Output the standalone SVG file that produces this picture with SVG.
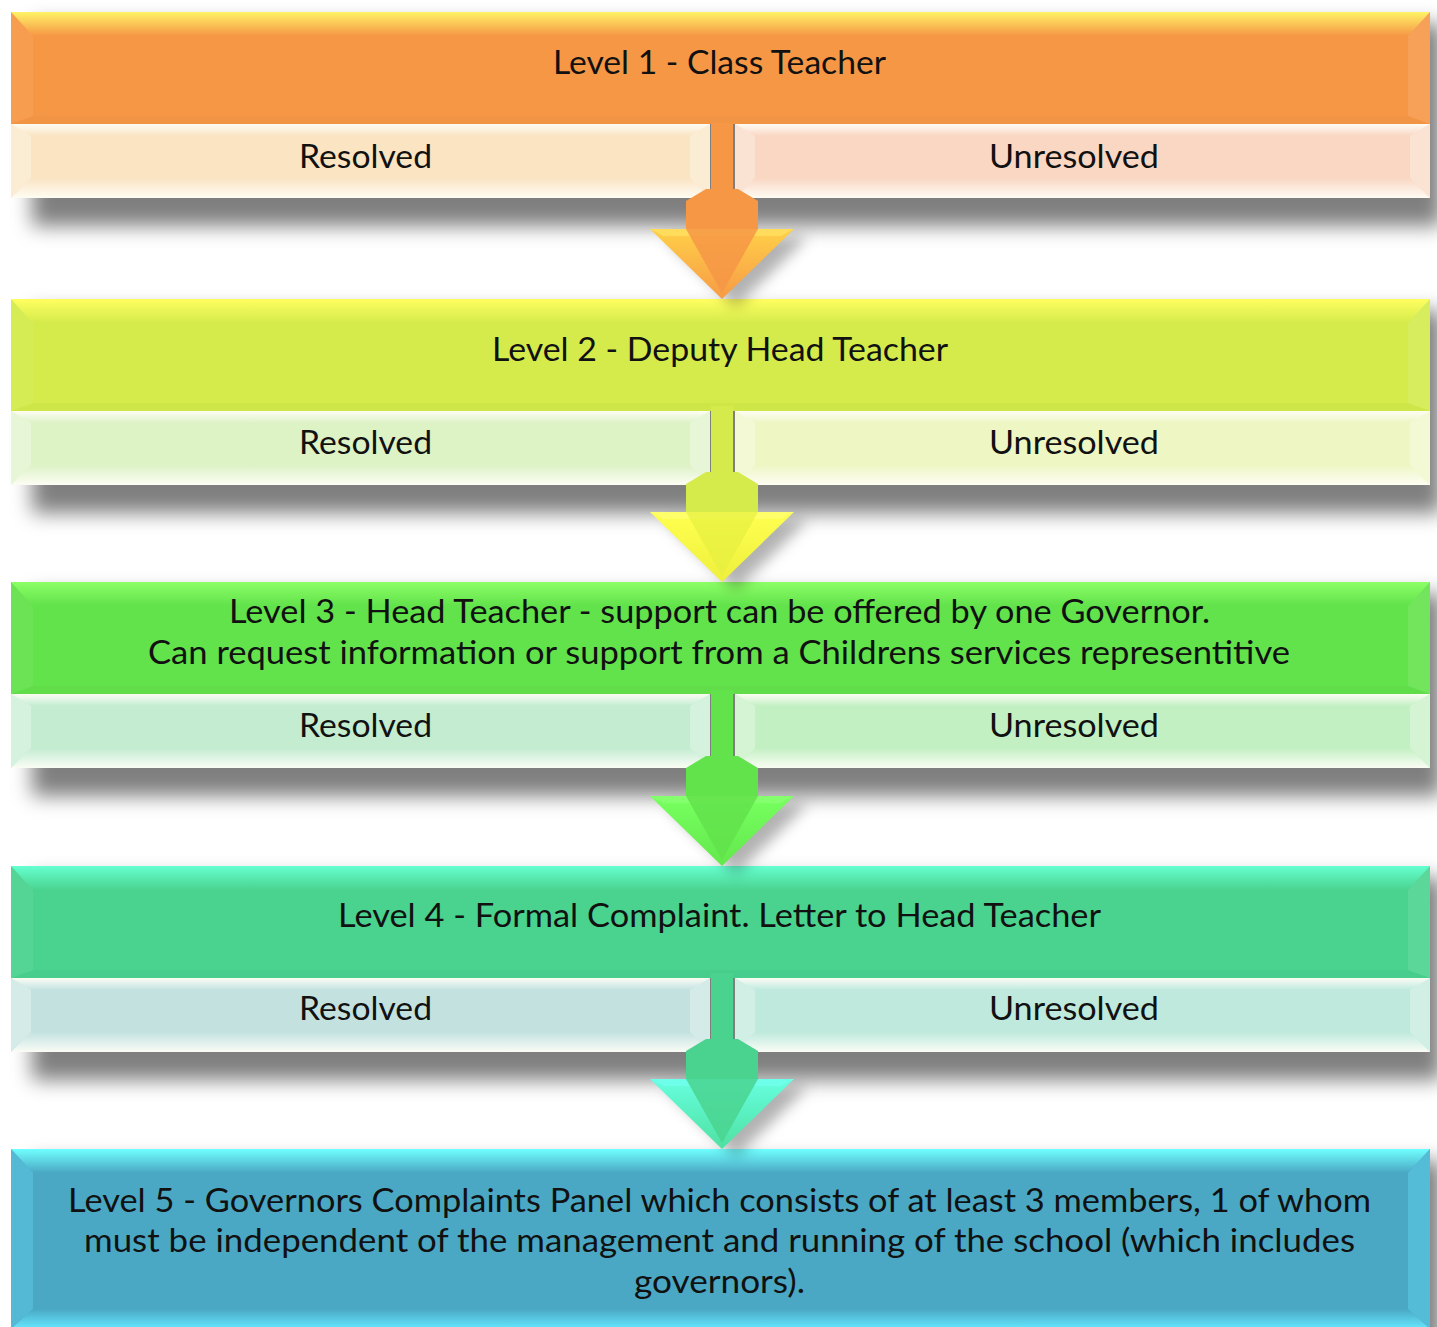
<svg xmlns="http://www.w3.org/2000/svg" width="1437" height="1327" viewBox="0 0 1437 1327">
<style>
text{font-family:"Lato","Open Sans","Liberation Sans",sans-serif;font-size:32px;fill:#111;text-anchor:middle}
.sbt{fill:url(#subTop)}
.sbb{fill:url(#subBot)}
.sbs{fill:#ffffff;fill-opacity:.3}
.mbl{fill:#ffffff;fill-opacity:.06}
.mbr{fill:#ffffff;fill-opacity:.1}
.mbb{fill:#000000;fill-opacity:.02}
.shadow{fill:#000;fill-opacity:.5;filter:url(#blur)}
.ashadow{fill:#000;fill-opacity:.3;filter:url(#blur2)}
</style>
<defs>
<filter id="blur" x="-10%" y="-50%" width="120%" height="200%"><feGaussianBlur stdDeviation="10"/></filter>
<filter id="blur2" x="-50%" y="-50%" width="200%" height="200%"><feGaussianBlur stdDeviation="7"/></filter>
<linearGradient id="subTop" x1="0" y1="0" x2="0" y2="1"><stop offset="0" stop-color="#fffdf4" stop-opacity=".95"/><stop offset="1" stop-color="#ffffff" stop-opacity="0"/></linearGradient>
<linearGradient id="subBot" x1="0" y1="0" x2="0" y2="1"><stop offset="0" stop-color="#ffffff" stop-opacity="0"/><stop offset="1" stop-color="#fffef6" stop-opacity=".92"/></linearGradient>
<linearGradient id="t1" x1="0" y1="0" x2="0" y2="1"><stop offset="0" stop-color="#fff366"/><stop offset="1" stop-color="#f69746"/></linearGradient>
<linearGradient id="t2" x1="0" y1="0" x2="0" y2="1"><stop offset="0" stop-color="#ffff60"/><stop offset="1" stop-color="#d4eb4b"/></linearGradient>
<linearGradient id="t3" x1="0" y1="0" x2="0" y2="1"><stop offset="0" stop-color="#8cff66"/><stop offset="1" stop-color="#62e24b"/></linearGradient>
<linearGradient id="t4" x1="0" y1="0" x2="0" y2="1"><stop offset="0" stop-color="#66ffd0"/><stop offset="1" stop-color="#4ad38f"/></linearGradient>
<linearGradient id="t5" x1="0" y1="0" x2="0" y2="1"><stop offset="0" stop-color="#70ffff"/><stop offset="1" stop-color="#4aa8c4"/></linearGradient>
<linearGradient id="b5" x1="0" y1="0" x2="0" y2="1"><stop offset="0" stop-color="#4aa8c4"/><stop offset="1" stop-color="#66e8ff"/></linearGradient>
<linearGradient id="h1" x1="0" y1="0" x2="0" y2="1"><stop offset="0" stop-color="#ffd048"/><stop offset="1" stop-color="#f79a46"/></linearGradient>
<linearGradient id="h2" x1="0" y1="0" x2="0" y2="1"><stop offset="0" stop-color="#ffff50"/><stop offset="1" stop-color="#eef03c"/></linearGradient>
<linearGradient id="h3" x1="0" y1="0" x2="0" y2="1"><stop offset="0" stop-color="#78ff60"/><stop offset="1" stop-color="#62e84b"/></linearGradient>
<linearGradient id="h4" x1="0" y1="0" x2="0" y2="1"><stop offset="0" stop-color="#66ffe0"/><stop offset="1" stop-color="#4fe0a0"/></linearGradient>
</defs>

<!-- shadows -->
<g id="shadows">
<rect class="shadow" x="32" y="24" width="1410" height="202"/>
<rect class="shadow" x="32" y="311" width="1410" height="202"/>
<rect class="shadow" x="32" y="594" width="1410" height="202"/>
<rect class="shadow" x="32" y="878" width="1410" height="202"/>
<rect class="shadow" x="32" y="1161" width="1410" height="200"/>
</g>

<!-- Level 1 -->
<g id="level1" transform="translate(0,12)">
<rect x="11" y="0" width="1419" height="112" fill="#f69746"/>
<polygon fill="url(#t1)" points="11,0 1430,0 1408,24 33,24"/>
<polygon class="mbl" points="11,0 33,24 33,104 11,112"/>
<polygon class="mbr" points="1430,0 1430,112 1408,104 1408,24"/>
<polygon class="mbb" points="11,112 1430,112 1408,104 33,104"/>
<text x="719.5" y="62" textLength="333" lengthAdjust="spacingAndGlyphs">Level 1 - Class Teacher</text>
<g id="level1-resolved">
<rect x="11" y="112" width="699" height="74" fill="#fae4c2"/>
<polygon class="sbt" points="11,112 710,112 690,124 31,124"/>
<polygon class="sbs" points="11,112 31,124 31,166 11,186"/>
<polygon class="sbs" points="710,112 710,186 690,166 690,124"/>
<polygon class="sbb" points="11,186 710,186 690,166 31,166"/>
<text x="365.5" y="156" textLength="133" lengthAdjust="spacingAndGlyphs">Resolved</text>
</g>
<g id="level1-unresolved">
<rect x="735" y="112" width="695" height="74" fill="#fad7c2"/>
<polygon class="sbt" points="735,112 1430,112 1410,124 755,124"/>
<polygon class="sbs" points="735,112 755,124 755,166 735,186"/>
<polygon class="sbs" points="1430,112 1430,186 1410,166 1410,124"/>
<polygon class="sbb" points="735,186 1430,186 1410,166 755,166"/>
<text x="1074" y="156" textLength="170" lengthAdjust="spacingAndGlyphs">Unresolved</text>
</g>
</g>

<!-- Level 2 -->
<g id="level2" transform="translate(0,299)">
<rect x="11" y="0" width="1419" height="112" fill="#d4eb4b"/>
<polygon fill="url(#t2)" points="11,0 1430,0 1408,24 33,24"/>
<polygon class="mbl" points="11,0 33,24 33,104 11,112"/>
<polygon class="mbr" points="1430,0 1430,112 1408,104 1408,24"/>
<polygon class="mbb" points="11,112 1430,112 1408,104 33,104"/>
<text x="720" y="62" textLength="456" lengthAdjust="spacingAndGlyphs">Level 2 - Deputy Head Teacher</text>
<g id="level2-resolved">
<rect x="11" y="112" width="699" height="74" fill="#ddf2c5"/>
<polygon class="sbt" points="11,112 710,112 690,124 31,124"/>
<polygon class="sbs" points="11,112 31,124 31,166 11,186"/>
<polygon class="sbs" points="710,112 710,186 690,166 690,124"/>
<polygon class="sbb" points="11,186 710,186 690,166 31,166"/>
<text x="365.5" y="155" textLength="133" lengthAdjust="spacingAndGlyphs">Resolved</text>
</g>
<g id="level2-unresolved">
<rect x="735" y="112" width="695" height="74" fill="#eef6c3"/>
<polygon class="sbt" points="735,112 1430,112 1410,124 755,124"/>
<polygon class="sbs" points="735,112 755,124 755,166 735,186"/>
<polygon class="sbs" points="1430,112 1430,186 1410,166 1410,124"/>
<polygon class="sbb" points="735,186 1430,186 1410,166 755,166"/>
<text x="1074" y="155" textLength="170" lengthAdjust="spacingAndGlyphs">Unresolved</text>
</g>
</g>

<!-- Level 3 -->
<g id="level3" transform="translate(0,582)">
<rect x="11" y="0" width="1419" height="112" fill="#62e24b"/>
<polygon fill="url(#t3)" points="11,0 1430,0 1408,24 33,24"/>
<polygon class="mbl" points="11,0 33,24 33,104 11,112"/>
<polygon class="mbr" points="1430,0 1430,112 1408,104 1408,24"/>
<polygon class="mbb" points="11,112 1430,112 1408,104 33,104"/>
<text x="719.5" y="41" textLength="981" lengthAdjust="spacingAndGlyphs">Level 3 - Head Teacher - support can be offered by one Governor.</text>
<text x="719" y="82" textLength="1142" lengthAdjust="spacingAndGlyphs">Can request information or support from a Childrens services representitive</text>
<g id="level3-resolved">
<rect x="11" y="112" width="699" height="74" fill="#c3ecd0"/>
<polygon class="sbt" points="11,112 710,112 690,124 31,124"/>
<polygon class="sbs" points="11,112 31,124 31,166 11,186"/>
<polygon class="sbs" points="710,112 710,186 690,166 690,124"/>
<polygon class="sbb" points="11,186 710,186 690,166 31,166"/>
<text x="365.5" y="155" textLength="133" lengthAdjust="spacingAndGlyphs">Resolved</text>
</g>
<g id="level3-unresolved">
<rect x="735" y="112" width="695" height="74" fill="#c3f0c2"/>
<polygon class="sbt" points="735,112 1430,112 1410,124 755,124"/>
<polygon class="sbs" points="735,112 755,124 755,166 735,186"/>
<polygon class="sbs" points="1430,112 1430,186 1410,166 1410,124"/>
<polygon class="sbb" points="735,186 1430,186 1410,166 755,166"/>
<text x="1074" y="155" textLength="170" lengthAdjust="spacingAndGlyphs">Unresolved</text>
</g>
</g>

<!-- Level 4 -->
<g id="level4" transform="translate(0,866)">
<rect x="11" y="0" width="1419" height="112" fill="#4ad38f"/>
<polygon fill="url(#t4)" points="11,0 1430,0 1408,24 33,24"/>
<polygon class="mbl" points="11,0 33,24 33,104 11,112"/>
<polygon class="mbr" points="1430,0 1430,112 1408,104 1408,24"/>
<polygon class="mbb" points="11,112 1430,112 1408,104 33,104"/>
<text x="719.5" y="61" textLength="763" lengthAdjust="spacingAndGlyphs">Level 4 - Formal Complaint. Letter to Head Teacher</text>
<g id="level4-resolved">
<rect x="11" y="112" width="699" height="74" fill="#c3e2df"/>
<polygon class="sbt" points="11,112 710,112 690,124 31,124"/>
<polygon class="sbs" points="11,112 31,124 31,166 11,186"/>
<polygon class="sbs" points="710,112 710,186 690,166 690,124"/>
<polygon class="sbb" points="11,186 710,186 690,166 31,166"/>
<text x="365.5" y="154" textLength="133" lengthAdjust="spacingAndGlyphs">Resolved</text>
</g>
<g id="level4-unresolved">
<rect x="735" y="112" width="695" height="74" fill="#bfe9dc"/>
<polygon class="sbt" points="735,112 1430,112 1410,124 755,124"/>
<polygon class="sbs" points="735,112 755,124 755,166 735,186"/>
<polygon class="sbs" points="1430,112 1430,186 1410,166 1410,124"/>
<polygon class="sbb" points="735,186 1430,186 1410,166 755,166"/>
<text x="1074" y="154" textLength="170" lengthAdjust="spacingAndGlyphs">Unresolved</text>
</g>
</g>

<!-- Level 5 -->
<g id="level5" transform="translate(0,1149)">
<rect x="11" y="0" width="1419" height="180" fill="#4aa8c4"/>
<polygon fill="url(#t5)" points="11,0 1430,0 1408,24 33,24"/>
<polygon fill="#58c0dc" fill-opacity=".7" points="11,0 33,24 33,160 11,180"/>
<polygon fill="#58c0dc" fill-opacity=".8" points="1430,0 1430,180 1408,160 1408,24"/>
<polygon fill="url(#b5)" points="11,180 1430,180 1408,160 33,160"/>
<text x="719.5" y="63" textLength="1303" lengthAdjust="spacingAndGlyphs">Level 5 - Governors Complaints Panel which consists of at least 3 members, 1 of whom</text>
<text x="719.5" y="103" textLength="1271" lengthAdjust="spacingAndGlyphs">must be independent of the management and running of the school (which includes</text>
<text x="719.5" y="144" textLength="171" lengthAdjust="spacingAndGlyphs">governors).</text>
</g>

<!-- connectors -->
<g id="connectors">
<g id="arrow1" transform="translate(0,13)">
<polygon class="ashadow" points="664,224 808,224 736,294"/>
<rect x="711" y="110" width="22" height="80" fill="#f69746"/>
<polygon fill="#f69746" points="686,188 706,176 738,176 758,188 758,218 686,218"/>
<polygon fill="url(#h1)" points="650,216 794,216 722,286"/>
<polygon fill="#ffe060" fill-opacity=".8" points="650,216 794,216 781,223 663,223"/>
<polygon fill="#f69746" fill-opacity=".85" points="686,216 758,216 722,280"/>
</g>
<g id="arrow2" transform="translate(0,296)">
<polygon class="ashadow" points="664,224 808,224 736,294"/>
<rect x="711" y="110" width="22" height="80" fill="#d4eb4b"/>
<polygon fill="#d4eb4b" points="686,188 706,176 738,176 758,188 758,218 686,218"/>
<polygon fill="url(#h2)" points="650,216 794,216 722,286"/>
<polygon fill="#ffff70" fill-opacity=".8" points="650,216 794,216 781,223 663,223"/>
<polygon fill="#e6f040" fill-opacity=".7" points="686,216 758,216 722,280"/>
</g>
<g id="arrow3" transform="translate(0,580)">
<polygon class="ashadow" points="664,224 808,224 736,294"/>
<rect x="711" y="110" width="22" height="80" fill="#62e24b"/>
<polygon fill="#62e24b" points="686,188 706,176 738,176 758,188 758,218 686,218"/>
<polygon fill="url(#h3)" points="650,216 794,216 722,286"/>
<polygon fill="#88ff70" fill-opacity=".8" points="650,216 794,216 781,223 663,223"/>
<polygon fill="#62e24b" fill-opacity=".85" points="686,216 758,216 722,280"/>
</g>
<g id="arrow4" transform="translate(0,863)">
<polygon class="ashadow" points="664,224 808,224 736,294"/>
<rect x="711" y="110" width="22" height="80" fill="#4ad38f"/>
<polygon fill="#4ad38f" points="686,188 706,176 738,176 758,188 758,218 686,218"/>
<polygon fill="url(#h4)" points="650,216 794,216 722,286"/>
<polygon fill="#70ffee" fill-opacity=".8" points="650,216 794,216 781,223 663,223"/>
<polygon fill="#4ad38f" fill-opacity=".85" points="686,216 758,216 722,280"/>
</g>
</g>
</svg>
